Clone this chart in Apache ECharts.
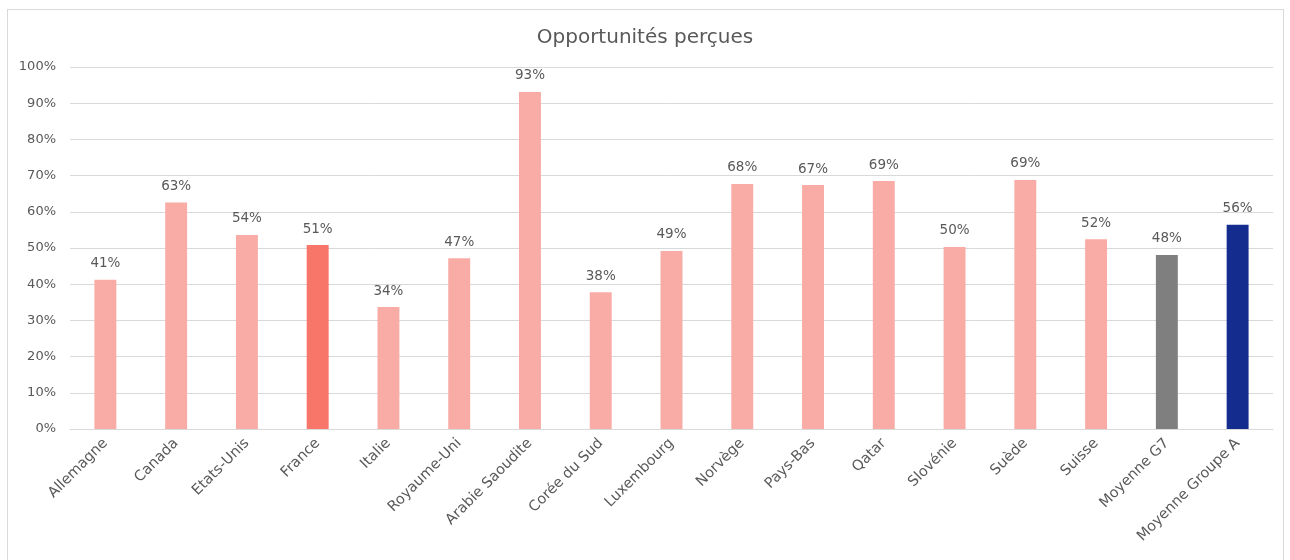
<!DOCTYPE html>
<html>
<head>
<meta charset="utf-8">
<script src="https://cdn.jsdelivr.net/npm/echarts@6/dist/echarts.min.js"></script>
<style>
html,body{margin:0;padding:0;background:#fff;}
#frame{position:absolute;left:7px;top:9px;width:1277px;height:560px;border:1px solid #d9d9d9;box-sizing:border-box;}
#chart{position:absolute;left:0;top:0;width:1290px;height:560px;}
</style>
</head>
<body>
<div id="frame"></div>
<div id="chart"></div>
<script>
const title = "Opportunités perçues";
const categories = ["Allemagne","Canada","Etats-Unis","France","Italie","Royaume-Uni","Arabie Saoudite","Corée du Sud","Luxembourg","Norvège","Pays-Bas","Qatar","Slovénie","Suède","Suisse","Moyenne G7","Moyenne Groupe A"];
const values = [41.2,62.6,53.6,50.8,33.7,47.2,93.1,37.8,49.2,67.7,67.4,68.5,50.3,68.8,52.4,48.1,56.4];
const barColors = ["#F9ACA6","#F9ACA6","#F9ACA6","#F8756A","#F9ACA6","#F9ACA6","#F9ACA6","#F9ACA6","#F9ACA6","#F9ACA6","#F9ACA6","#F9ACA6","#F9ACA6","#F9ACA6","#F9ACA6","#7F7F7F","#152C8F"];
const yTicks = [0,10,20,30,40,50,60,70,80,90,100];

const font = "DejaVu Sans";
const chart = echarts.init(document.getElementById('chart'));
chart.setOption({
  animation:false,
  title:{text:title,left:'center',top:23,textStyle:{fontFamily:font,fontSize:20,fontWeight:'normal',color:'#595959'}},
  grid:{left:70,right:17,top:67,bottom:131},
  xAxis:{type:'category',data:categories,
    axisLine:{lineStyle:{color:'#d9d9d9'}},axisTick:{show:false},
    axisLabel:{rotate:45,interval:0,fontFamily:font,fontSize:14.5,color:'#595959',margin:12}},
  yAxis:{type:'value',min:0,max:100,interval:10,
    axisLabel:{formatter:'{value}%',fontFamily:font,fontSize:13,color:'#595959',margin:14},
    splitLine:{lineStyle:{color:'#d9d9d9'}},axisLine:{show:false},axisTick:{show:false}},
  series:[{type:'bar',barWidth:'31%',
    data:values.map((v,i)=>({value:v,itemStyle:{color:barColors[i]}})),
    label:{show:true,position:'top',distance:9,fontFamily:font,fontSize:13.5,color:'#595959',formatter:p=>Math.round(p.value)+'%'}}]
});
</script>
</body>
</html>
